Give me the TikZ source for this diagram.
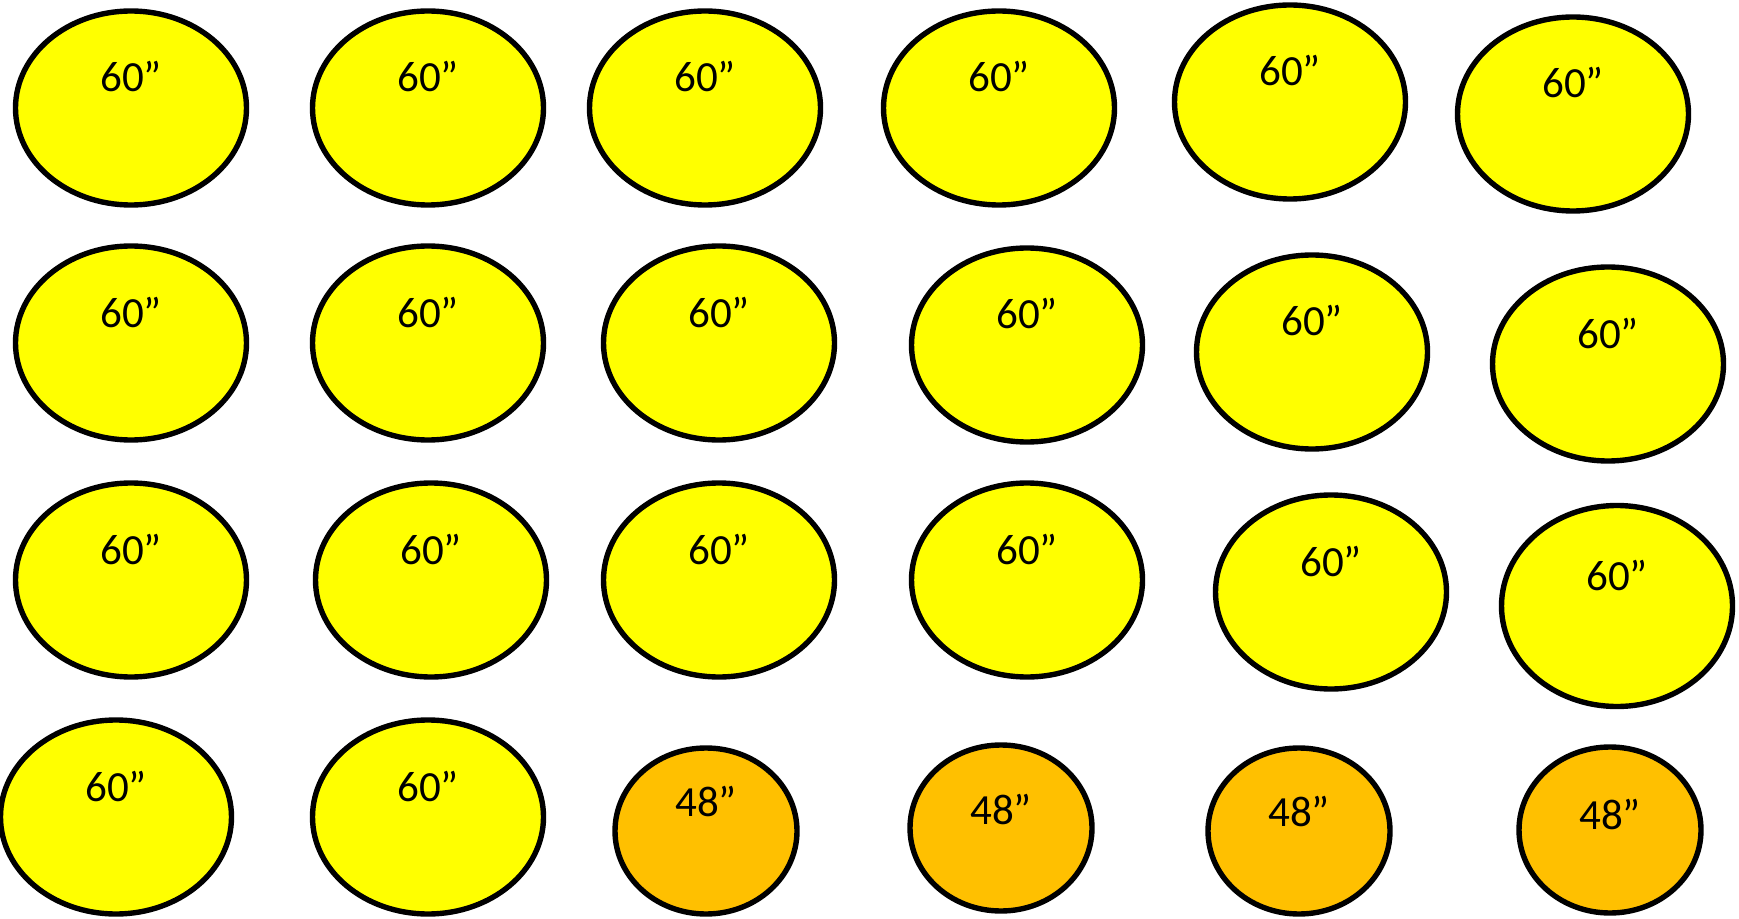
\documentclass[tikz,border=0pt]{standalone}
\usepackage{fontspec}
\setmainfont{Carlito}
\usepackage{tikz}
\usetikzlibrary{shapes.geometric}
\definecolor{tabyellow}{HTML}{FFFF00}
\definecolor{taborange}{HTML}{FFC000}

\begin{document}
\begin{tikzpicture}[
  x=0.5pt, y=-0.5pt,
  sizelbl/.style={font=\fontsize{21.5pt}{25pt}\selectfont, inner sep=0pt},
  rnd/.style={ellipse, draw=black, line width=2.7pt, inner sep=0pt},
  table60/.style={rnd, fill=tabyellow, minimum width=115.5pt, minimum height=97pt, label={[sizelbl, yshift=#1]center:60”}},
  table60/.default=15.5pt,
  table48/.style={rnd, fill=taborange, minimum width=91pt, minimum height=83pt, label={[sizelbl, yshift=#1]center:48”}},
  table48/.default=15pt
]
  \useasboundingbox (0,0) rectangle (1739,919);
  % row 1
  \node[table60] (r1c1) at (131,108) {};
  \node[table60] (r1c2) at (428,108) {};
  \node[table60] (r1c3) at (705,108) {};
  \node[table60] (r1c4) at (999,108) {};
  \node[table60] (r1c5) at (1290,102) {};
  \node[table60] (r1c6) at (1573,114) {};
  % row 2
  \node[table60] (r2c1) at (131,343) {};
  \node[table60] (r2c2) at (428,343) {};
  \node[table60] (r2c3) at (719,343) {};
  \node[table60] (r2c4) at (1027,345) {};
  \node[table60] (r2c5) at (1312,352) {};
  \node[table60] (r2c6) at (1608,364) {};
  % row 3
  \node[table60] (r3c1) at (131,580) {};
  \node[table60] (r3c2) at (431,580) {};
  \node[table60] (r3c3) at (719,580) {};
  \node[table60] (r3c4) at (1027,580) {};
  \node[table60] (r3c5) at (1331,592) {};
  \node[table60, minimum height=100.5pt] (r3c6) at (1617,606) {};
  % row 4
  \node[table60] (r4c1) at (116,817) {};
  \node[table60] (r4c2) at (428,817) {};
  \node[table48] (r4c3) at (706,831) {};
  \node[table48=9.5pt] (r4c4) at (1001,828) {};
  \node[table48=10pt] (r4c5) at (1299,831) {};
  \node[table48=8pt] (r4c6) at (1610,830) {};
\end{tikzpicture}
\end{document}
